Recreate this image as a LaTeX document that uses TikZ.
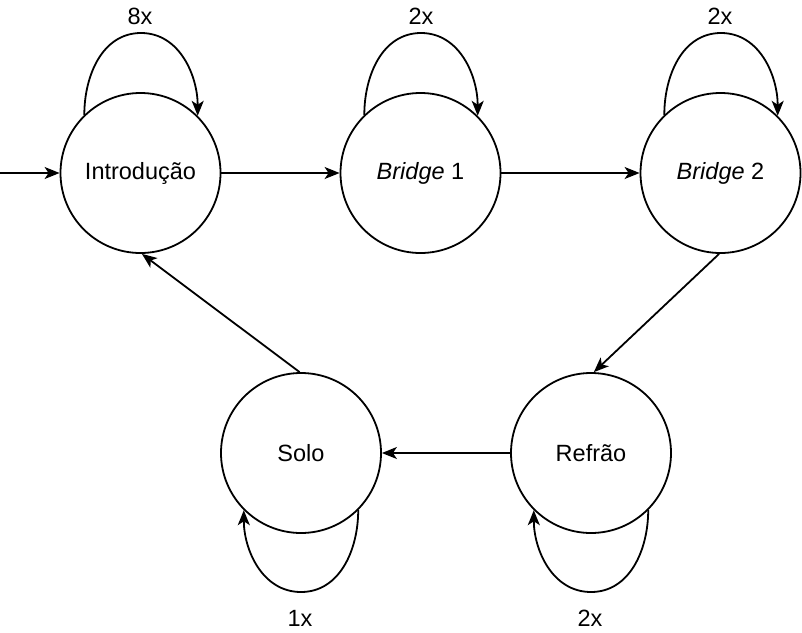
\documentclass[tikz,border=0pt]{standalone}
\usepackage{fontspec}
\setmainfont{Liberation Sans}
\usetikzlibrary{arrows.meta}
\begin{document}
\begin{tikzpicture}[x=1pt,y=-1pt,
  state/.style={circle,draw,line width=1.8pt,minimum size=160pt,inner sep=0pt,font=\fontsize{23.5}{27}\selectfont},
  lbl/.style={font=\fontsize{23.5}{27}\selectfont,inner sep=0pt},
  conn/.style={line width=1.8pt,-{Stealth[length=15pt,width=12pt,inset=4pt]}}]
\useasboundingbox (0,0) rectangle (802,632);
\node[state] (intro) at (140.5,173) {Introdução};
\node[state] (b1) at (420.5,173) {\textit{Bridge} 1};
\node[state] (b2) at (720.5,173) {\textit{Bridge} 2};
\node[state] (solo) at (301,453) {Solo};
\node[state] (ref) at (591,453) {Refrão};
\coordinate (start) at (0,173);
\draw[conn] (start) -- (intro);
\draw[conn] (intro) -- (b1);
\draw[conn] (b1) -- (b2);
\draw[conn] (b2.-91) -- (ref.88);
\draw[conn] (ref) -- (solo);
\draw[conn] (solo.91) -- (intro.-89);
\coordinate (ti) at (141,33);
\coordinate (t1) at (421,33);
\coordinate (t2) at (721,33);
\coordinate (bs) at (301,592);
\coordinate (br) at (591,592);
\draw[conn] (intro.134) to[out=90,in=180] (ti) to[out=0,in=90] (intro.45);
\draw[conn] (b1.134) to[out=90,in=180] (t1) to[out=0,in=90] (b1.45);
\draw[conn] (b2.134) to[out=90,in=180] (t2) to[out=0,in=90] (b2.45);
\draw[conn] (solo.-45) to[out=-90,in=0] (bs) to[out=180,in=-90] (solo.-135);
\draw[conn] (ref.-45) to[out=-90,in=0] (br) to[out=180,in=-90] (ref.-135);
\node[lbl] (l1) at (140,16) {8x};
\node[lbl] (l2) at (421,16) {2x};
\node[lbl] (l3) at (720,16) {2x};
\node[lbl] (l4) at (300,618) {1x};
\node[lbl] (l5) at (590,618) {2x};
\end{tikzpicture}
\end{document}
